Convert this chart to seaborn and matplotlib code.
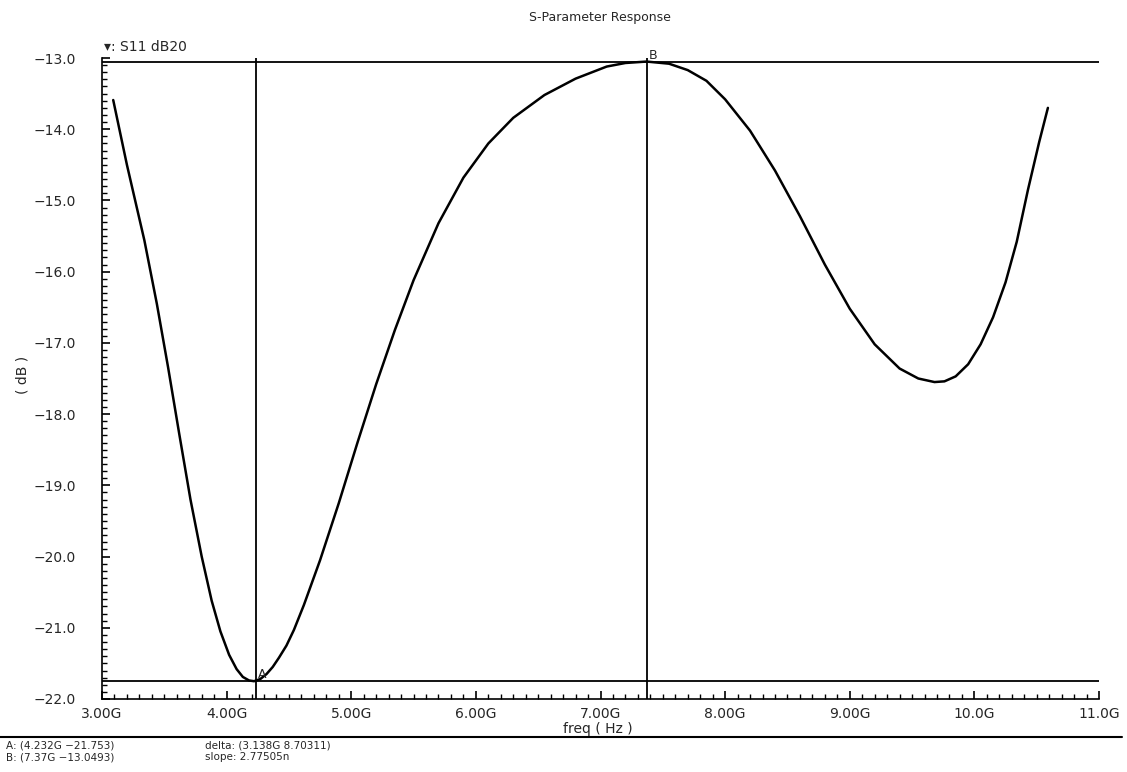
import matplotlib
matplotlib.use("Agg")
import matplotlib.pyplot as plt
from matplotlib.ticker import MultipleLocator, FixedLocator, FixedFormatter
from matplotlib.lines import Line2D
import seaborn as sns
import pandas as pd

# ---- data ----
freq_ghz = [3.09, 3.20, 3.34, 3.44, 3.53, 3.62, 3.71, 3.80, 3.88, 3.95, 4.02,
            4.08, 4.13, 4.18, 4.22, 4.27, 4.32, 4.37, 4.42, 4.48, 4.54, 4.62,
            4.75, 4.90, 5.05, 5.20, 5.35, 5.50, 5.70, 5.90, 6.10, 6.30, 6.55,
            6.80, 7.05, 7.20, 7.37, 7.55, 7.70, 7.85, 8.00, 8.20, 8.40, 8.60,
            8.80, 9.00, 9.20, 9.40, 9.55, 9.68, 9.76, 9.85, 9.95, 10.05, 10.15,
            10.25, 10.34, 10.43, 10.52, 10.59]
s11_db = [-13.59, -14.50, -15.56, -16.45, -17.34, -18.28, -19.20, -20.00, -20.62,
          -21.05, -21.38, -21.58, -21.69, -21.74, -21.75, -21.72, -21.65, -21.55,
          -21.42, -21.25, -21.03, -20.68, -20.05, -19.25, -18.40, -17.58, -16.82,
          -16.12, -15.32, -14.68, -14.20, -13.84, -13.52, -13.29, -13.12, -13.07,
          -13.05, -13.08, -13.17, -13.32, -13.58, -14.02, -14.58, -15.22, -15.90,
          -16.52, -17.02, -17.36, -17.50, -17.55, -17.54, -17.47, -17.30, -17.02,
          -16.64, -16.15, -15.58, -14.85, -14.18, -13.70]

marker_a = (4.232, -21.753)
marker_b = (7.37, -13.0493)

x_ticks = [3, 4, 5, 6, 7, 8, 9, 10, 11]
x_tick_labels = ["3.00G", "4.00G", "5.00G", "6.00G", "7.00G", "8.00G", "9.00G", "10.0G", "11.0G"]
y_ticks = [-22, -21, -20, -19, -18, -17, -16, -15, -14, -13]
y_tick_labels = ["\u221222.0", "\u221221.0", "\u221220.0", "\u221219.0", "\u221218.0",
                 "\u221217.0", "\u221216.0", "\u221215.0", "\u221214.0", "\u221213.0"]

title = "S-Parameter Response"
legend_text = "\u25be: S11 dB20"
readout_left = ["A: (4.232G \u221221.753)", "B: (7.37G \u221213.0493)"]
readout_right = ["delta: (3.138G 8.70311)", "slope: 2.77505n"]

df = pd.DataFrame({"freq": freq_ghz, "s11": s11_db})

# ---- figure ----
sns.set_style("white")
plt.rcParams['font.family'] = ['DejaVu Sans']

W, H = 1127, 772
fig = plt.figure(figsize=(W / 100, H / 100), dpi=100)
fig.patch.set_facecolor("white")

x0, x1, y0, y1 = 102, 1099, 58, 699
ax = fig.add_axes([x0 / W, 1 - y1 / H, (x1 - x0) / W, (y1 - y0) / H])
ax.set_facecolor("white")

sns.lineplot(data=df, x="freq", y="s11", ax=ax, color="black", linewidth=1.8,
             estimator=None, sort=False)

# marker lines
ax.axvline(marker_a[0], color="black", lw=1.3)
ax.axhline(marker_a[1], color="black", lw=1.3)
ax.axvline(marker_b[0], color="black", lw=1.3)
ax.axhline(marker_b[1], color="black", lw=1.3)
ax.text(marker_a[0] + 0.02, marker_a[1], "A", fontsize=9, ha="left", va="bottom")
ax.text(marker_b[0] + 0.02, marker_b[1], "B", fontsize=9, ha="left", va="bottom")

ax.set_xlim(3, 11)
ax.set_ylim(-22, -13)

ax.xaxis.set_major_locator(FixedLocator(x_ticks))
ax.xaxis.set_major_formatter(FixedFormatter(x_tick_labels))
ax.xaxis.set_minor_locator(MultipleLocator(0.1))
ax.yaxis.set_major_locator(FixedLocator(y_ticks))
ax.yaxis.set_major_formatter(FixedFormatter(y_tick_labels))
ax.yaxis.set_minor_locator(MultipleLocator(0.1))

ax.tick_params(which="both", bottom=True, left=True, top=False, right=False)
ax.tick_params(which="major", direction="in", length=6, width=1.2, color="black",
               labelsize=10)
ax.tick_params(which="minor", direction="in", length=3.5, width=1.0, color="black")
ax.tick_params(axis="y", which="major", pad=19)
ax.tick_params(axis="x", which="major", pad=6)

for side in ["top", "right"]:
    ax.spines[side].set_visible(False)
for side in ["left", "bottom"]:
    ax.spines[side].set_color("black")
    ax.spines[side].set_linewidth(1.2)

ax.set_xlabel("")
ax.set_ylabel("")

def fx(px):
    return px / W

def fy(py):
    return 1 - py / H

fig.text(fx(600), fy(17), title, fontsize=9, ha="center", va="center")
fig.text(fx(104), fy(47), legend_text, fontsize=10, ha="left", va="center")
fig.text(fx(22), fy(375), "( dB )", fontsize=10, ha="center", va="center", rotation=90)
fig.text(fx(598), fy(729), "freq ( Hz )", fontsize=10, ha="center", va="center")

fig.add_artist(Line2D([0, fx(1122)], [fy(737), fy(737)], color="black", lw=1.5,
                      transform=fig.transFigure))

fig.text(fx(6), fy(745), readout_left[0], fontsize=7.5, ha="left", va="center")
fig.text(fx(6), fy(757), readout_left[1], fontsize=7.5, ha="left", va="center")
fig.text(fx(205), fy(745), readout_right[0], fontsize=7.5, ha="left", va="center")
fig.text(fx(205), fy(757), readout_right[1], fontsize=7.5, ha="left", va="center")

fig.savefig("out.png", dpi=100, facecolor="white")
